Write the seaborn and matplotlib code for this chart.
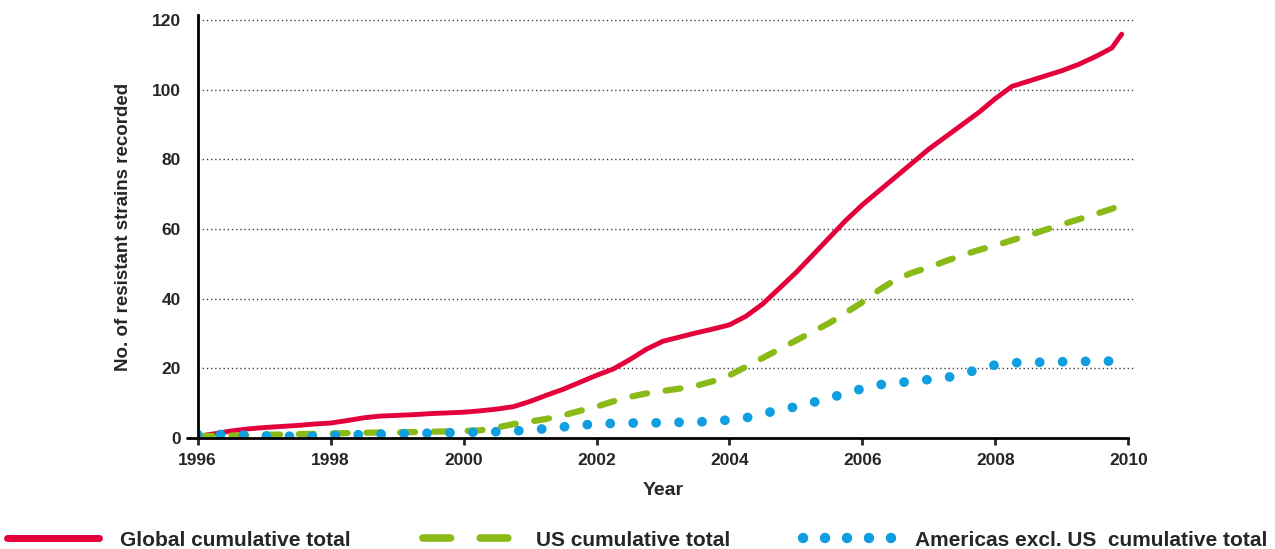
import numpy as np
import pandas as pd
import matplotlib
matplotlib.use('Agg')
import matplotlib.pyplot as plt
from matplotlib.lines import Line2D
import seaborn as sns

# quarter-year positions
years = [1996.00, 1996.25, 1996.50, 1996.75, 1997.00, 1997.25, 1997.50, 1997.75,
         1998.00, 1998.25, 1998.50, 1998.75, 1999.00, 1999.25, 1999.50, 1999.75,
         2000.00, 2000.25, 2000.50, 2000.75, 2001.00, 2001.25, 2001.50, 2001.75,
         2002.00, 2002.25, 2002.50, 2002.75, 2003.00, 2003.25, 2003.50, 2003.75,
         2004.00, 2004.25, 2004.50, 2004.75, 2005.00, 2005.25, 2005.50, 2005.75,
         2006.00, 2006.25, 2006.50, 2006.75, 2007.00, 2007.25, 2007.50, 2007.75,
         2008.00, 2008.25, 2008.50, 2008.75, 2009.00, 2009.25, 2009.50, 2009.75,
         2009.90]

global_total = [0.5, 1.2, 2.0, 2.6, 3.0, 3.3, 3.6, 4.0,
                4.3, 5.0, 5.8, 6.3, 6.5, 6.7, 7.0, 7.2,
                7.4, 7.8, 8.3, 9.0, 10.5, 12.3, 14.0, 16.0,
                18.0, 19.8, 22.5, 25.5, 27.8, 29.0, 30.2, 31.3,
                32.5, 35.0, 38.5, 43.0, 47.5, 52.5, 57.5, 62.5,
                67.0, 71.0, 75.0, 79.0, 83.0, 86.5, 90.0, 93.5,
                97.5, 101.0, 102.5, 104.0, 105.5, 107.3, 109.5, 112.0,
                116.0]

us_total = [0.5, 0.6, 0.7, 0.8, 0.9, 1.0, 1.1, 1.2,
            1.3, 1.4, 1.5, 1.6, 1.6, 1.7, 1.8, 1.9,
            2.0, 2.2, 3.0, 4.0, 4.7, 5.5, 6.5, 7.8,
            9.0, 10.5, 11.8, 12.8, 13.5, 14.2, 15.0, 16.3,
            18.0, 20.5, 23.0, 25.5, 28.0, 30.5, 33.0, 36.0,
            39.0, 42.5, 45.5, 47.5, 49.0, 50.8, 52.5, 54.0,
            55.3, 56.8, 58.2, 59.8, 61.3, 62.8, 64.3, 65.8,
            67.0]

americas_total = [1.0, 1.0, 1.0, 0.8, 0.6, 0.5, 0.5, 0.5,
                  0.7, 0.9, 1.0, 1.1, 1.2, 1.3, 1.4, 1.5,
                  1.6, 1.7, 1.8, 2.0, 2.3, 2.7, 3.2, 3.7,
                  4.0, 4.2, 4.3, 4.3, 4.4, 4.5, 4.6, 4.8,
                  5.2, 5.8, 7.0, 8.0, 9.0, 10.2, 11.5, 12.8,
                  14.2, 15.3, 15.8, 16.3, 16.8, 17.3, 18.3, 19.8,
                  21.0, 21.6, 21.7, 21.8, 21.9, 22.0, 22.0, 22.1,
                  22.1]

xticks = [1996, 1998, 2000, 2002, 2004, 2006, 2008, 2010]
yticks = [0, 20, 40, 60, 80, 100, 120]
labels = ['Global cumulative total', 'US cumulative total',
          'Americas excl. US  cumulative total']

red, green, blue = '#e4003b', '#8aba17', '#0f9ee0'

df = pd.DataFrame({'Year': years, 'Global': global_total,
                   'US': us_total, 'Americas': americas_total})

sns.set_style('white')
plt.rcParams['font.family'] = ['Liberation Sans', 'DejaVu Sans']
plt.rcParams['font.weight'] = 'bold'

fig = plt.figure(figsize=(12.75, 5.49), dpi=100)
ax = fig.add_axes([0.155, 0.2022, 0.730, 0.7705])

sns.lineplot(data=df, x='Year', y='Global', ax=ax, color=red, lw=3.5,
             solid_capstyle='round')
sns.lineplot(data=df, x='Year', y='US', ax=ax, color=green, lw=4.5,
             linestyle=(0, (2.4, 3.0)), dash_capstyle='round')
sns.lineplot(data=df, x='Year', y='Americas', ax=ax, color=blue, lw=7,
             linestyle=(0, (0.01, 2.35)), dash_capstyle='round')

ax.set_xlim(1996, 2010)
ax.set_ylim(0, 121.5)
ax.set_xticks(xticks)
ax.set_yticks(yticks)
ax.set_xticklabels([str(t) for t in xticks], fontsize=12.5, fontweight='bold')
ax.set_yticklabels([str(t) for t in yticks], fontsize=12.5, fontweight='bold')
ax.tick_params(axis='x', length=5, width=2, pad=6, direction='out', bottom=True)
ax.tick_params(axis='y', length=0, pad=12)

# dotted grid, no line at zero (spine covers it)
for y in yticks[1:]:
    ax.axhline(y, xmax=1.006, color='#444444', lw=1, linestyle=(0, (1, 2)),
               zorder=0, clip_on=False)
# little stub of the zero line left of the y axis
ax.axhline(0, xmin=-0.011, xmax=0, color='black', lw=2, clip_on=False)

ax.set_xlabel('Year', fontsize=14, fontweight='bold', labelpad=10)
ax.set_ylabel('No. of resistant strains recorded', fontsize=13.5,
              fontweight='bold', labelpad=14)

for s in ['top', 'right']:
    ax.spines[s].set_visible(False)
ax.spines['left'].set_linewidth(2)
ax.spines['bottom'].set_linewidth(2)
ax.spines['left'].set_color('black')
ax.spines['bottom'].set_color('black')

# legend handles drawn a bit chunkier like the original
handles = [Line2D([], [], color=red, lw=5, solid_capstyle='round'),
           Line2D([], [], color=green, lw=5.5, dash_capstyle='round',
                  linestyle=(0, (3.6, 3.9))),
           Line2D([], [], color=blue, lw=7.5, dash_capstyle='round',
                  linestyle=(0, (0.01, 2.1)))]
fig.legend(handles, labels, loc='center', bbox_to_anchor=(0.5, 0.016), ncol=3,
           frameon=False, handlelength=4.4, handletextpad=1.0,
           columnspacing=3.5, prop={'weight': 'bold', 'size': 15})

fig.savefig('out.png', dpi=100)
